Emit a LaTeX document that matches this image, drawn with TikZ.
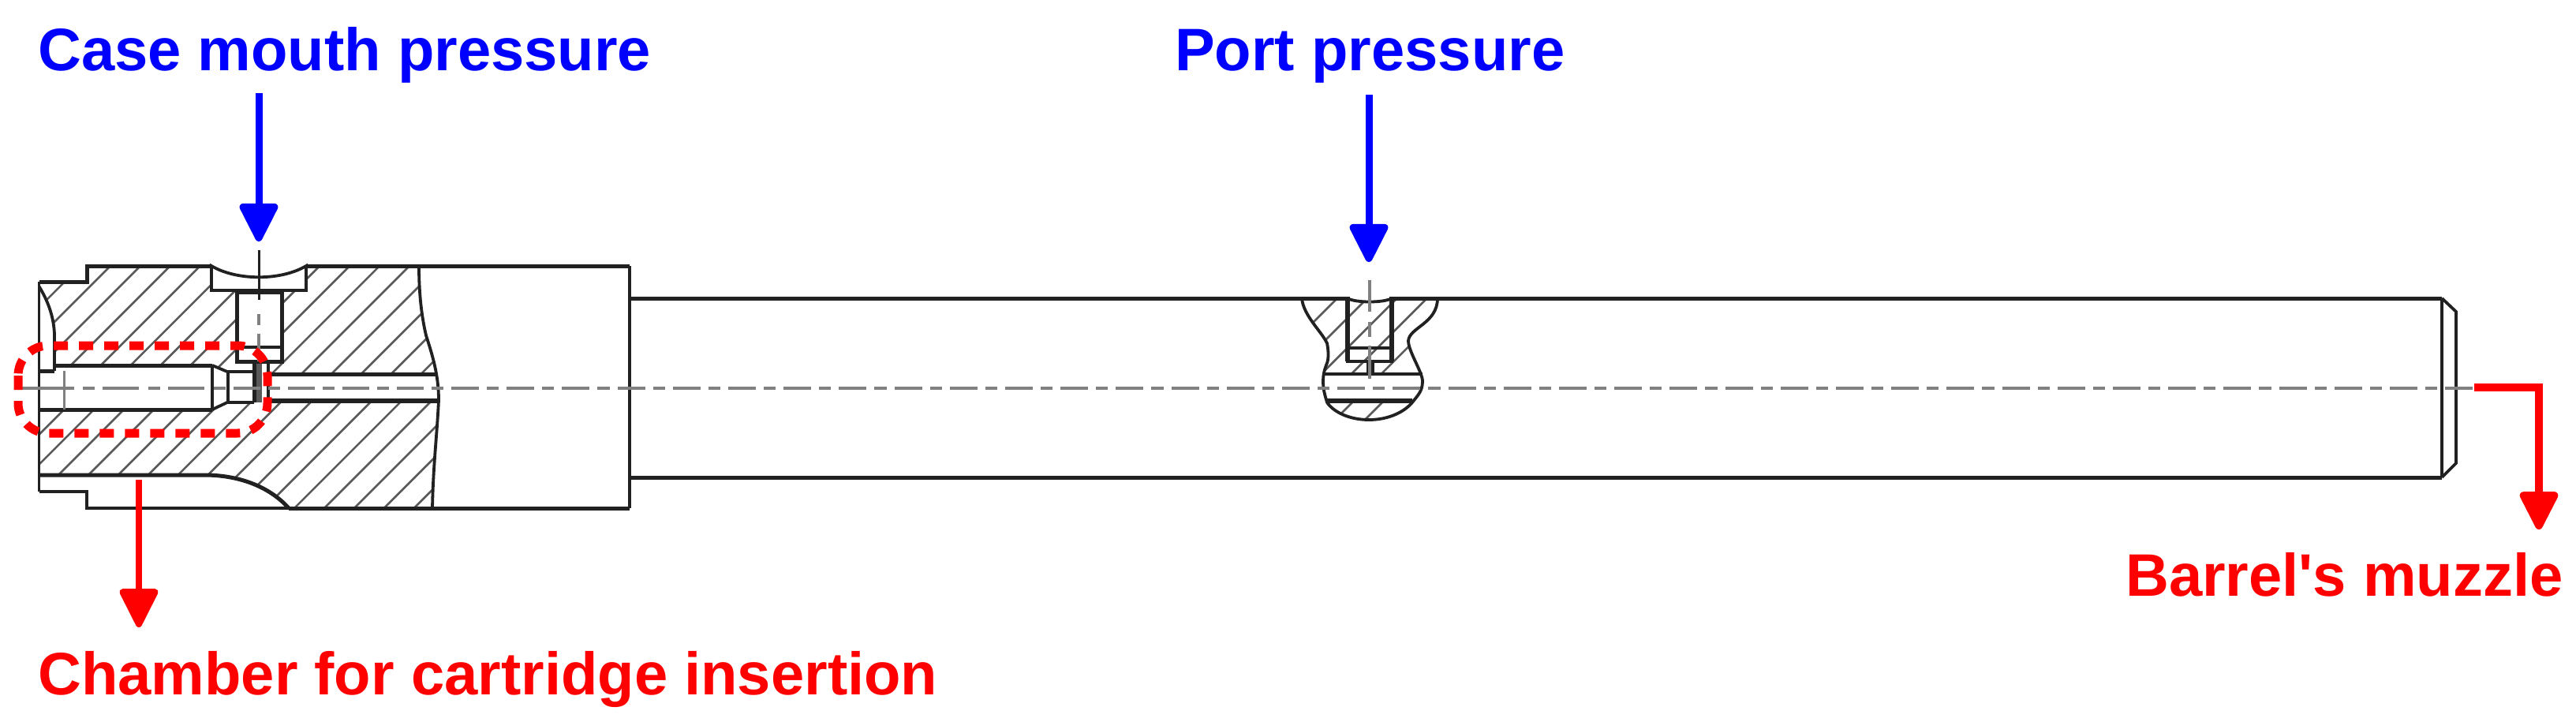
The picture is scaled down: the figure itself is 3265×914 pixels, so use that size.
\documentclass[tikz,border=0pt]{standalone}
\usepackage{fontspec}
\newfontfamily\lblfont{Liberation Sans}
\usetikzlibrary{arrows.meta}
\definecolor{cline}{gray}{0.13}
\definecolor{chatch}{gray}{0.35}
\definecolor{ccenter}{gray}{0.5}
\tikzset{
  x=1pt,y=-1pt,
  thick line/.style={draw=cline,line width=5pt},
  mid line/.style={draw=cline,line width=3.8pt},
  heavy line/.style={draw=cline,line width=6.5pt},
  hatchline/.style={draw=chatch,line width=2.6pt},
  centre line/.style={draw=ccenter,line width=3.4pt},
  bluearrow/.style={draw=blue,line width=9pt,-{Triangle[width=52pt,length=54pt,round]},blue},
  redarrow/.style={draw=red,line width=9.5pt,-{Triangle[width=52pt,length=54pt,round]},red},
  label text/.style={font=\lblfont\bfseries\fontsize{76}{76}\selectfont,inner sep=0pt,anchor=base west},
}
\newcommand{\hatchrange}[1]{%
  \foreach \k in {-6,...,30}{\draw[hatchline] ({#1+37.9*\k-700},700) -- ({#1+37.9*\k},0);}}
\begin{document}
\begin{tikzpicture}
\useasboundingbox (0,0) rectangle (3265,914);
\fill[white] (0,0) rectangle (3265,914);
% hatching upper
\begin{scope}
\clip (110,337) -- (531,337) .. controls (531,365) and (533,395) .. (540,425) .. controls (548,450) and (553,465) .. (554,474) -- (340,474) -- (340,458) -- (300,458) -- (300,473) -- (288,471) -- (269,463) -- (69,463) -- (69,423) .. controls (68,400) and (60,380) .. (49.5,357) -- (110,357) -- cycle;
\hatchrange{477}
\end{scope}
% hatching lower
\begin{scope}
\clip (49.5,519) -- (269,519) -- (288,510) -- (340,510) -- (344,508) -- (556,508) .. controls (554,550) and (549,590) .. (548,644) -- (366,644) .. controls (340,615) and (300,602) .. (259,602) -- (49.5,602) -- cycle;
\hatchrange{676}
\end{scope}
% port section hatching
\begin{scope}
\clip (1650,378) .. controls (1652,400) and (1675,420) .. (1682,435) .. controls (1684,445) and (1684,455) .. (1682,460) .. controls (1680,466) and (1678,470) .. (1677,474) -- (1803,474) .. controls (1800,465) and (1785,445) .. (1785,432) .. controls (1786,415) and (1822,410) .. (1822,378) -- cycle;
\foreach \k in {0,...,4}{\draw[hatchline] ({2073+37.9*\k-700},700) -- ({2073+37.9*\k},0);}
\end{scope}
\begin{scope}
\clip (1682,508) .. controls (1690,522) and (1710,532) .. (1735,532) .. controls (1760,532) and (1780,522) .. (1790,508) -- cycle;
\foreach \k in {0,1}{\draw[hatchline] ({2224+37.9*\k-700},700) -- ({2224+37.9*\k},0);}
\end{scope}
% outer profile
\draw[thick line] (49.5,602) -- (259,602) .. controls (300,602) and (340,615) .. (366,644);
\draw[thick line] (366,644) -- (798,644);
\draw[mid line] (49.5,357) -- (49.5,623);
\draw[thick line] (49.5,357) -- (110,357) -- (110,337) -- (268,337);
\draw[thick line] (388,337) -- (798,337);
\draw[mid line] (798,337) -- (798,644);
\draw[mid line] (49.5,623) -- (110,623) -- (110,644) -- (366,644);
% break line
\draw[mid line] (531,337) .. controls (531,365) and (533,395) .. (540,425) .. controls (548,450) and (556,475) .. (556,507) .. controls (554,550) and (549,590) .. (548,644);
% barrel
\draw[thick line] (798,378) -- (3095,378);
\draw[thick line] (798,605) -- (3095,605);
\draw[mid line] (3095,378) -- (3095,605);
\draw[mid line] (3095,378) -- (3113,395) -- (3113,587) -- (3095,605);
% chamber counterbore
\draw[mid line] (49.5,363) .. controls (60,380) and (68,400) .. (69,423) -- (69,470);
\draw[thick line] (49.5,470) -- (69,470);
\draw[thick line] (69,463) -- (269,463);
\draw[thick line] (49.5,519) -- (269,519);
\draw[ccenter,line width=3.4pt] (81.6,470) -- (81.6,519);
\draw[mid line] (269,463) -- (269,519);
\draw[mid line] (269,463) -- (288,471) -- (322,471);
\draw[mid line] (269,519) -- (288,510) -- (322,510);
\draw[mid line] (289,471) -- (289,510);
\fill[chatch] (323,458) rectangle (332,510);
\draw[thick line] (322,458) -- (322,510);
\draw[mid line] (340,458) -- (340,510);
% bore
\draw[thick line] (340,474) -- (554,474);
\draw[heavy line] (340,508) -- (556,508);
% upper pocket
\fill[white] (268,334.5) rectangle (388,352);
\draw[mid line,fill=white] (268,337) .. controls (300,356) and (356,356) .. (388,337) -- (388,368) -- (268,368) -- cycle;
\draw[thick line,fill=white] (300,370) rectangle (357,458);
\draw[mid line] (300,440) -- (358,440);
\draw[draw=cline,line width=3pt] (328,317) -- (328,380);
\draw[ccenter,line width=3.4pt] (328,398) -- (328,412);
\draw[ccenter,line width=3.4pt] (328,423) -- (328,458);
% port section outline
\draw[mid line] (1650,378) .. controls (1652,400) and (1675,420) .. (1682,435) .. controls (1684,445) and (1684,455) .. (1682,460) .. controls (1678,470) and (1677,476) .. (1677,483) .. controls (1677,495) and (1680,503) .. (1682,510) .. controls (1690,522) and (1710,532) .. (1735,532) .. controls (1760,532) and (1780,522) .. (1790,510) .. controls (1798,500) and (1803,495) .. (1803,483) .. controls (1803,472) and (1785,445) .. (1785,432) .. controls (1786,415) and (1822,410) .. (1822,378);
\draw[mid line] (1678,474) -- (1803,474);
\draw[heavy line] (1682,508) -- (1790,508);
\fill[white] (1711,374) rectangle (1761,381);
\draw[heavy line] (1708,376) -- (1708,458);
\draw[heavy line] (1764,376) -- (1764,458);
\draw[mid line] (1706,458) -- (1766,458);
\draw[mid line] (1708,378) .. controls (1718,384) and (1754,384) .. (1764,378);
\draw[mid line] (1708,441) -- (1764,441);
\fill[cline] (1732,458) rectangle (1742,474);
\draw[ccenter,line width=3.4pt] (1736,355) -- (1736,395);
\draw[ccenter,line width=3.4pt] (1736,408) -- (1736,427);
\draw[ccenter,line width=3.4pt] (1736,438) -- (1736,480);
% centre line
\draw[centre line] (28,492) -- (94,492);
\draw[centre line,dash pattern=on 15pt off 10pt on 46pt off 12pt] (105,492) -- (296,492);
\draw[centre line,dash pattern=on 34pt off 10pt on 15pt off 10pt] (296,492) -- (572,492);
\draw[centre line,dash pattern=on 35pt off 10pt on 15.2pt off 10pt] (572,492) -- (3136,492);
% red dashed outline
\draw[red,line width=11pt,rounded corners=38pt,dash pattern=on 18pt off 14pt] (23,438) rectangle (339,549);
% labels
\node[label text,text=blue] (casel) at (48,89) {Case mouth pressure};
\node[label text,text=blue] (portl) at (1489,89) {Port pressure};
\node[label text,text=red] (chaml) at (48,880) {Chamber for cartridge insertion};
\node[label text,text=red] (muzl) at (2694,755) {Barrel's muzzle};
% arrows
\coordinate (a1s) at (328,118); \coordinate (a1e) at (328,306);
\coordinate (a2s) at (1735,120); \coordinate (a2e) at (1735,332);
\coordinate (a3s) at (176,608); \coordinate (a3e) at (176,795);
\coordinate (a4s) at (3136,491); \coordinate (a4m) at (3218,491); \coordinate (a4e) at (3218,671);
\draw[bluearrow] (a1s) -- (a1e);
\draw[bluearrow] (a2s) -- (a2e);
\draw[redarrow,line width=8pt] (a3s) -- (a3e);
\draw[redarrow] (a4s) -- (a4m) -- (a4e);
\end{tikzpicture}
\end{document}
